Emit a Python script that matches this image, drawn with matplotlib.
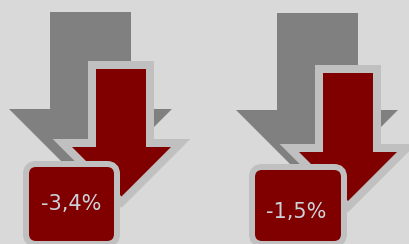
import matplotlib
matplotlib.use('Agg')
import matplotlib.pyplot as plt
from matplotlib.patches import Polygon, FancyBboxPatch

plt.rcParams['font.family'] = ['DejaVu Sans']

values = [-3.4, -1.5]
labels = [('%.1f%%' % v).replace('.', ',') for v in values]

bg = '#d9d9d9'
grau = '#808080'
rot = '#800000'
rand = '#c0c0c0'
schrift = '#cbd3da'

px = 72 / 100  # one pixel in points


def pfeil(l, r, top, hy, hl, hr):
    cx = (hl + hr) / 2
    tip = hy + (hr - hl) / 2
    return [(l, top), (r, top), (r, hy), (hr, hy), (cx, tip), (hl, hy), (l, hy)]


# group layout: gray arrow, red arrow, box, text position (baseline)
gruppen = [
    dict(grau=(50, 131, 12, 109, 9, 172), rot=(96, 146, 69, 147, 72, 171),
         box=(29, 167, 85, 74), text=(71.5, 210)),
    dict(grau=(277, 358, 13, 110, 236, 398), rot=(323, 373, 73, 152, 299, 397),
         box=(255, 170, 86, 71), text=(296, 218)),
]

fig = plt.figure(figsize=(4.09, 2.44), dpi=100, facecolor=bg)
ax = fig.add_axes([0, 0, 1, 1])
ax.set_xlim(0, 409)
ax.set_ylim(244, 0)
ax.axis('off')
ax.set_facecolor(bg)

for g, lab in zip(gruppen, labels):
    ax.add_patch(Polygon(pfeil(*g['grau']), closed=True, facecolor=grau, edgecolor='none'))
    pts = pfeil(*g['rot'])
    ax.add_patch(Polygon(pts, closed=True, facecolor=rand, edgecolor=rand,
                         lw=16 * px, joinstyle='miter'))
    ax.add_patch(Polygon(pts, closed=True, facecolor=rot, edgecolor='none'))
    x, y, w, h = g['box']
    ax.add_patch(FancyBboxPatch((x, y), w, h, boxstyle='round,pad=0,rounding_size=7',
                                facecolor=rot, edgecolor=rand, lw=12 * px))
    ax.add_patch(FancyBboxPatch((x, y), w, h, boxstyle='round,pad=0,rounding_size=7',
                                facecolor=rot, edgecolor='none'))
    ax.text(g['text'][0], g['text'][1], lab, color=schrift, fontsize=15,
            ha='center', va='baseline')

plt.savefig('out.png', dpi=100, facecolor=bg)
